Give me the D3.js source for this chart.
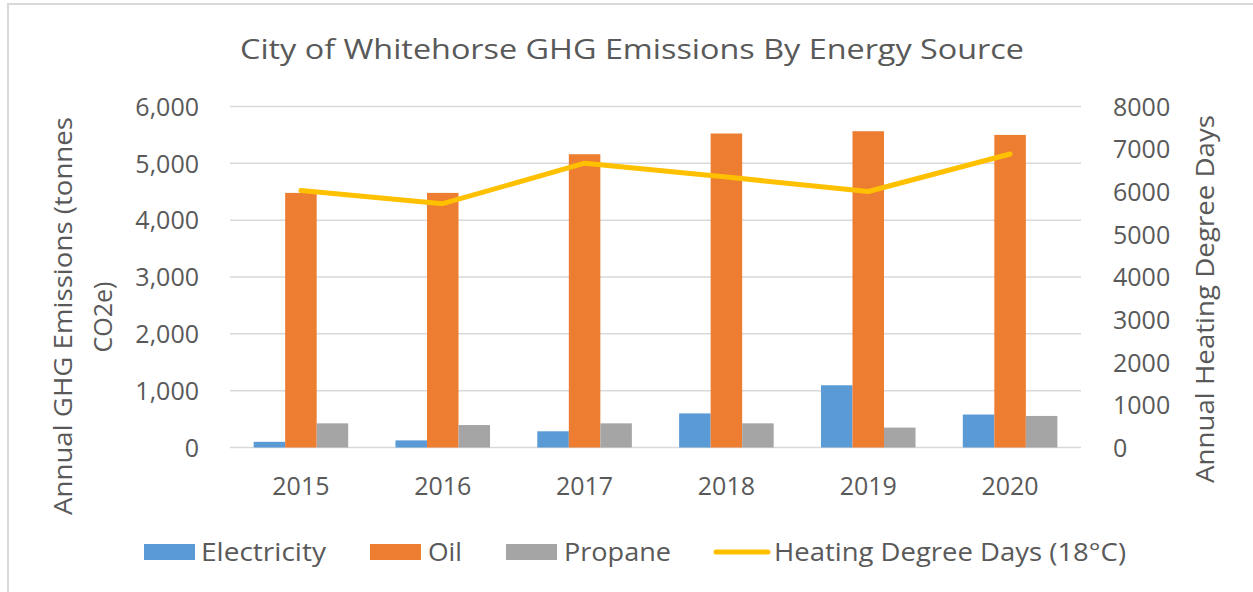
<!DOCTYPE html>
<html>
<head>
<meta charset="utf-8">
<script src="https://cdn.jsdelivr.net/npm/d3@7"></script>
<style>
  body { margin: 0; background: #fff; }
  text { font-family: "Open Sans", sans-serif; fill: #595959; }
</style>
</head>
<body>
<div id="chart"></div>
<script>
const years = ["2015", "2016", "2017", "2018", "2019", "2020"];
const electricity = [100, 125, 285, 600, 1095, 580];
const oil = [4480, 4480, 5160, 5525, 5565, 5500];
const propane = [425, 395, 425, 425, 350, 555];
const hdd = [6030, 5720, 6670, 6345, 6005, 6885];
const leftTicks = [0, 1000, 2000, 3000, 4000, 5000, 6000];
const rightTicks = [0, 1000, 2000, 3000, 4000, 5000, 6000, 7000, 8000];

const width = 1253, height = 592;
const plot = { left: 230, right: 1081, top: 106.5, bottom: 447.5 };

const svg = d3.select("#chart").append("svg")
  .attr("width", width)
  .attr("height", height);

// outer chart border (only top and left visible)
svg.append("rect")
  .attr("x", 8).attr("y", 4)
  .attr("width", 1300).attr("height", 700)
  .attr("fill", "none")
  .attr("stroke", "#d9d9d9")
  .attr("stroke-width", 2);

svg.append("text")
  .attr("x", 632).attr("y", 59)
  .attr("text-anchor", "middle")
  .attr("font-size", 27)
  .attr("textLength", 784)
  .attr("lengthAdjust", "spacingAndGlyphs")
  .text("City of Whitehorse GHG Emissions By Energy Source");

const x = d3.scaleBand().domain(years).range([plot.left, plot.right]);
const series = ["Electricity", "Oil", "Propane"];
const xs = d3.scaleBand().domain(series).range([0, x.bandwidth()]).paddingInner(0).paddingOuter(1.25 / 2 * 0 + 0.75);
const yL = d3.scaleLinear().domain([0, 6000]).range([plot.bottom, plot.top]);
const yR = d3.scaleLinear().domain([0, 8000]).range([plot.bottom, plot.top]);
const colors = { Electricity: "#5b9bd5", Oil: "#ed7d31", Propane: "#a5a5a5" };

// gridlines
svg.append("g")
  .selectAll("line")
  .data(leftTicks)
  .join("line")
  .attr("x1", plot.left).attr("x2", plot.right)
  .attr("y1", (d) => yL(d)).attr("y2", (d) => yL(d))
  .attr("stroke", "#d9d9d9")
  .attr("stroke-width", 1.5);

// left axis
const leftAxis = svg.append("g")
  .attr("transform", `translate(${plot.left - 31},0)`)
  .call(d3.axisLeft(yL).tickValues(leftTicks).tickSize(0).tickPadding(0).tickFormat(d3.format(",")));
leftAxis.select(".domain").remove();
leftAxis.selectAll("text").attr("font-size", 25).attr("font-family", null).attr("fill", "#595959").attr("dy", "0.35em");

// right axis
const rightAxis = svg.append("g")
  .attr("transform", `translate(${plot.right + 32},0)`)
  .call(d3.axisRight(yR).tickValues(rightTicks).tickSize(0).tickPadding(0).tickFormat(d3.format("d")));
rightAxis.select(".domain").remove();
rightAxis.selectAll("text").attr("font-size", 25).attr("font-family", null).attr("fill", "#595959").attr("dy", "0.35em");

// bottom axis
const bottomAxis = svg.append("g")
  .attr("transform", `translate(0,${plot.bottom})`)
  .call(d3.axisBottom(x).tickSize(0).tickPadding(30));
bottomAxis.select(".domain").remove();
bottomAxis.selectAll("text").attr("font-size", 25).attr("font-family", null).attr("fill", "#595959").attr("dy", "0.7em");

// bars
const rows = years.map((yr, i) => ({
  year: yr,
  values: [
    { key: "Electricity", v: electricity[i] },
    { key: "Oil", v: oil[i] },
    { key: "Propane", v: propane[i] },
  ],
}));

svg.append("g")
  .selectAll("g")
  .data(rows)
  .join("g")
  .attr("transform", (d) => `translate(${x(d.year)},0)`)
  .selectAll("rect")
  .data((d) => d.values)
  .join("rect")
  .attr("x", (d) => xs(d.key))
  .attr("width", xs.bandwidth())
  .attr("y", (d) => yL(d.v))
  .attr("height", (d) => plot.bottom - yL(d.v))
  .attr("fill", (d) => colors[d.key]);

// HDD line
const line = d3.line()
  .x((d, i) => x(years[i]) + x.bandwidth() / 2)
  .y((d) => yR(d));

svg.append("path")
  .datum(hdd)
  .attr("d", line)
  .attr("fill", "none")
  .attr("stroke", "#ffc000")
  .attr("stroke-width", 5)
  .attr("stroke-linecap", "round")
  .attr("stroke-linejoin", "round");

// axis titles
svg.append("text")
  .attr("transform", "translate(72,316) rotate(-90)")
  .attr("text-anchor", "middle")
  .attr("font-size", 25)
  .attr("textLength", 398)
  .attr("lengthAdjust", "spacingAndGlyphs")
  .text("Annual GHG Emissions (tonnes");
svg.append("text")
  .attr("transform", "translate(112,317) rotate(-90)")
  .attr("text-anchor", "middle")
  .attr("font-size", 25)
  .text("CO2e)");
svg.append("text")
  .attr("transform", "translate(1214,299) rotate(-90)")
  .attr("text-anchor", "middle")
  .attr("font-size", 25)
  .attr("textLength", 368)
  .attr("lengthAdjust", "spacingAndGlyphs")
  .text("Annual Heating Degree Days");

// legend
const legendItems = [
  { label: "Electricity", type: "rect", color: colors.Electricity, x: 144, tx: 201, tw: 125 },
  { label: "Oil", type: "rect", color: colors.Oil, x: 370, tx: 428, tw: 34 },
  { label: "Propane", type: "rect", color: colors.Propane, x: 506, tx: 564, tw: 107 },
  { label: "Heating Degree Days (18°C)", type: "line", color: "#ffc000", x: 714, tx: 774, tw: 352 },
];
const lg = svg.append("g");
legendItems.forEach((d) => {
  if (d.type === "rect") {
    lg.append("rect")
      .attr("x", d.x).attr("y", 544)
      .attr("width", 51).attr("height", 16)
      .attr("fill", d.color);
  } else {
    lg.append("line")
      .attr("x1", d.x + 2).attr("x2", d.x + 54)
      .attr("y1", 552).attr("y2", 552)
      .attr("stroke", d.color)
      .attr("stroke-width", 5)
      .attr("stroke-linecap", "round");
  }
  lg.append("text")
    .attr("x", d.tx).attr("y", 552)
    .attr("dy", "0.35em")
    .attr("font-size", 25)
    .attr("textLength", d.tw)
    .attr("lengthAdjust", "spacingAndGlyphs")
    .text(d.label);
});
</script>
</body>
</html>
